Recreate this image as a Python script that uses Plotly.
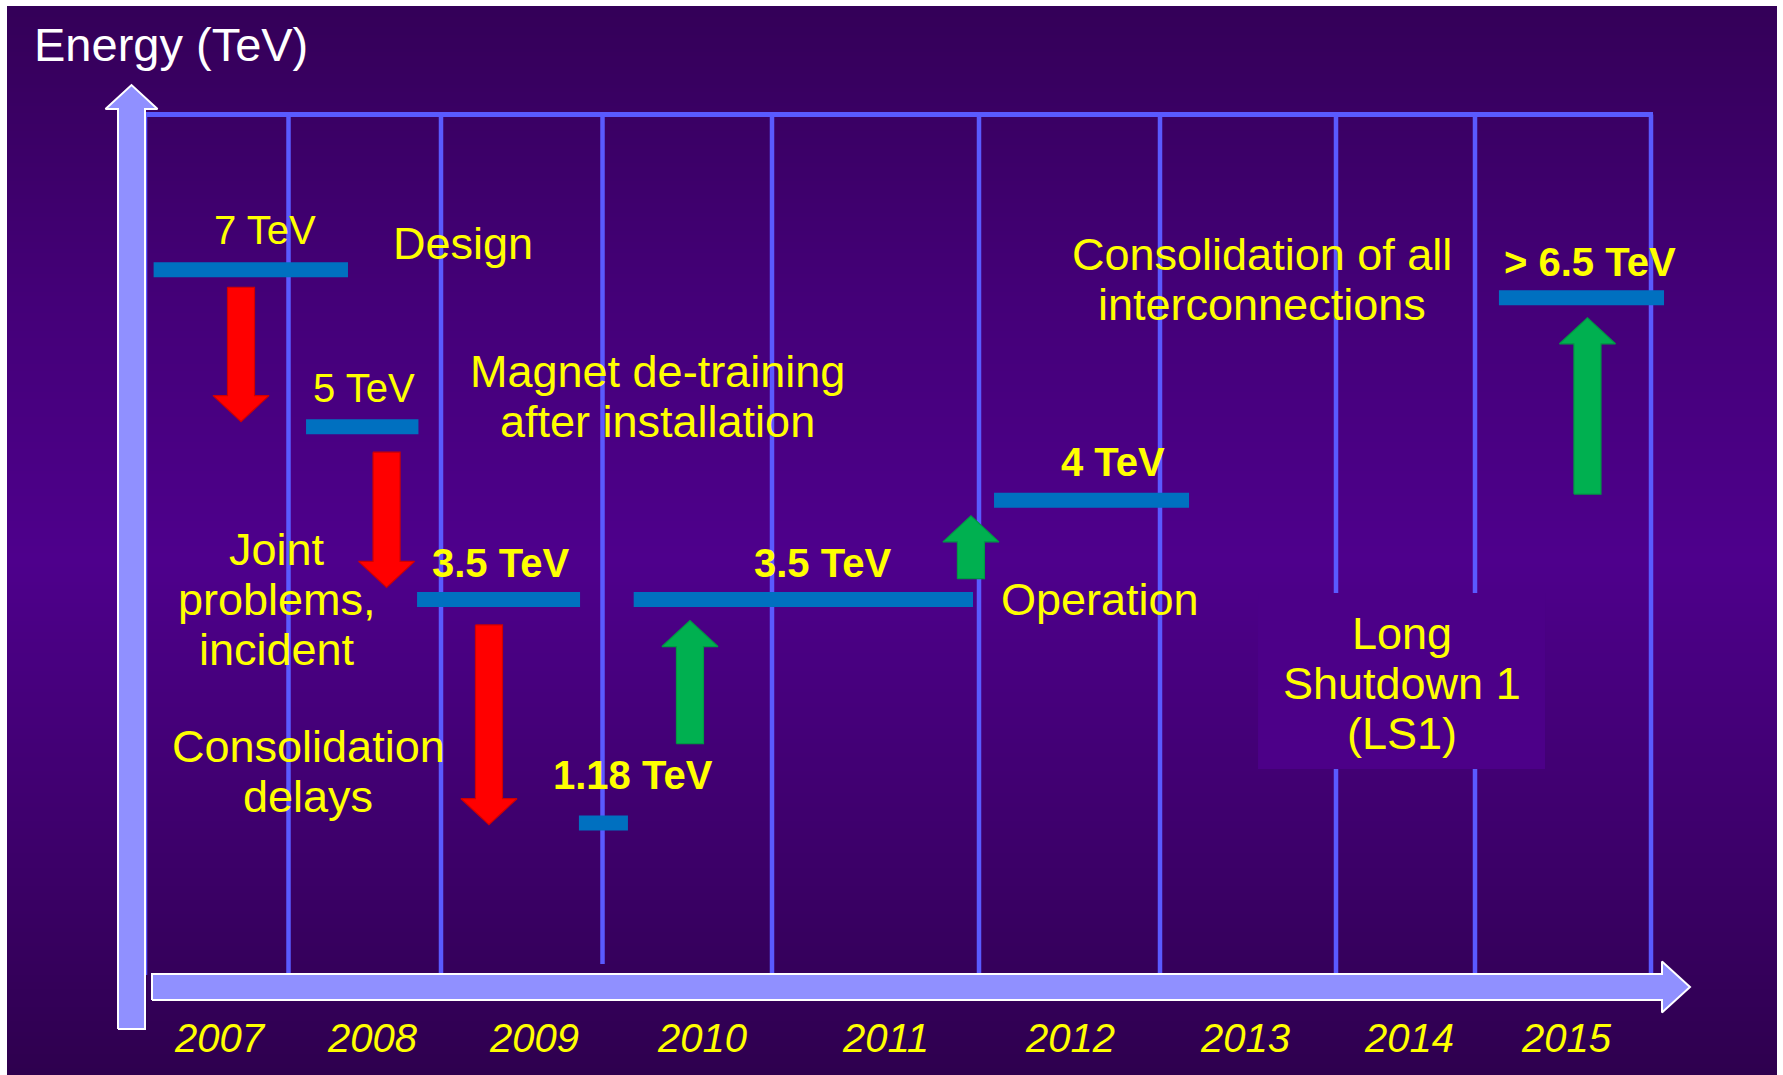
import numpy as np
import plotly.graph_objects as go

# ---------------- data ----------------
years = [2007, 2008, 2009, 2010, 2011, 2012, 2013, 2014, 2015]

# energy plateaus: label, start / end (fractional year), drawn level (schematic height)
plateau_text = ["7 TeV", "5 TeV", "3.5 TeV", "1.18 TeV", "3.5 TeV", "4 TeV", "> 6.5 TeV"]
plateau_energy = [7.0, 5.0, 3.5, 1.18, 3.5, 4.0, 6.5]
plateau_start = [2007.06, 2008.115, 2008.843, 2009.854, 2010.184, 2012.083, 2015.136]
plateau_end = [2008.39, 2008.852, 2009.861, 2010.150, 2011.971, 2013.165, 2016.074]
plateau_level = [8.22, 6.42, 4.44, 1.88, 4.44, 5.58, 7.90]
plateau_bold = [False, False, True, True, True, True, True]

# red arrows (energy reductions) and green arrows (energy increases)
drop_year = [2007.669, 2008.643, 2009.297]
drop_from = [8.02, 6.13, 4.15]
drop_to = [6.48, 4.58, 1.86]

rise_year = [2010.516, 2011.961, 2015.639]
rise_from = [2.79, 4.68, 5.65]
rise_to = [4.20, 5.40, 7.67]

# explanatory notes
note_lines = [
    ["Design"],
    ["Magnet de-training", "after installation"],
    ["Joint", "problems,", "incident"],
    ["Consolidation", "delays"],
    ["Operation"],
    ["Consolidation of all", "interconnections"],
    ["Long", "Shutdown 1", "(LS1)"],
]
note_year = [2009.138, 2010.322, 2007.920, 2008.128, 2012.669, 2013.577, 2014.473]
note_level = [8.527, 7.060, 5.013, 2.762, 4.447, 8.401, 4.057]

# ---------------- layout / style constants ----------------
W, H = 1783, 1075
COL_EDGES = [145, 288.5, 441, 602.5, 772, 979, 1160, 1336, 1475, 1651]  # drawn year columns
Y0_PX = 987.0          # pixel row of level 0 (time axis)
PXL = 87.25            # pixels per level unit
FONT = "Liberation Sans, Arial, sans-serif"
YELLOW = "#ffff00"
GRID = "#5a5aff"
BAR = "#0070c0"
AXIS_FILL = "#9090ff"

label_dx = [14, 2, 1.5, 30, 19, 21.5, 8.5]           # label offset from bar centre (px)
label_dy = [40, 39, 36.4, 47.5, 36.4, 38.5, 36]      # label height above bar (px)
year_dx = [3, 8, 12, 15, 9.5, 0, -3, 3, 3]
LINE_GAP = 50 / PXL


def year_to_x(t):
    t = np.asarray(t, dtype=float)
    edges_t = np.arange(2007, 2017)
    x = np.interp(t, edges_t, COL_EDGES)
    w_last = COL_EDGES[-1] - COL_EDGES[-2]
    x = np.where(t > 2016, COL_EDGES[-1] + (t - 2016) * w_last, x)
    return x


def px_to_level(py):
    return (Y0_PX - py) / PXL


fig = go.Figure()

# ---------------- background gradient (heatmap of rows) ----------------
stops_y = [6, 300, 560, 800, 1075]
stops_c = ["rgb(52,0,88)", "rgb(68,0,120)", "rgb(78,0,140)", "rgb(64,0,112)", "rgb(46,0,78)"]
cscale = [[(sy - 6) / (H - 6), c] for sy, c in zip(stops_y, stops_c)]
row_edges_px = np.linspace(6, H, 300)
row_mid_px = 0.5 * (row_edges_px[:-1] + row_edges_px[1:])
fig.add_trace(go.Heatmap(
    x=[7, 1777], y=px_to_level(row_edges_px), z=[[v] for v in row_mid_px],
    zmin=6, zmax=H, colorscale=cscale, showscale=False, hoverinfo="skip"))


def add_line(xs, ys, color, width):
    fig.add_trace(go.Scatter(x=xs, y=ys, mode="lines", line=dict(color=color, width=width),
                             hoverinfo="skip", showlegend=False))


# ---------------- grid ----------------
top_level = px_to_level(114.5)
bottom_level = px_to_level(975)
for i, xe in enumerate(COL_EDGES):
    yb = px_to_level(964) if i == 3 else bottom_level
    add_line([xe, xe], [yb, top_level], GRID, 4.5)
add_line([COL_EDGES[0] - 2, COL_EDGES[-1] + 2], [top_level, top_level], GRID, 5)

# LS1 label box (covers the grid lines)
bx0, bx1 = float(year_to_x(2013.557)), float(year_to_x(2015.398))
by0, by1 = px_to_level(769), px_to_level(593)
fig.add_trace(go.Scatter(x=[bx0, bx1, bx1, bx0, bx0], y=[by0, by0, by1, by1, by0], mode="lines",
                         fill="toself", fillcolor="rgb(76,0,136)", line=dict(width=0),
                         hoverinfo="skip", showlegend=False))

# ---------------- axis arrows ----------------
cx, bw, hw = 131.5, 13.5, 26
tip, hb, bot = px_to_level(85), px_to_level(109), px_to_level(1029)
ax_x = [cx - bw, cx - bw, cx - hw, cx, cx + hw, cx + bw, cx + bw, cx - bw]
ax_y = [bot, hb, hb, tip, hb, hb, bot, bot]
fig.add_trace(go.Scatter(x=ax_x, y=ax_y, mode="lines", fill="toself", fillcolor=AXIS_FILL,
                         line=dict(color="white", width=2), hoverinfo="skip", showlegend=False))
cy = 0.0
bh, hh = 13 / PXL, 25.5 / PXL
x0a, hbx, tipx = 152, 1662, 1690
tx = [x0a, hbx, hbx, tipx, hbx, hbx, x0a, x0a]
ty = [cy - bh, cy - bh, cy - hh, cy, cy + hh, cy + bh, cy + bh, cy - bh]
fig.add_trace(go.Scatter(x=tx, y=ty, mode="lines", fill="toself", fillcolor=AXIS_FILL,
                         line=dict(color="white", width=2), hoverinfo="skip", showlegend=False))

# ---------------- plateaus ----------------
for s, e, lv in zip(plateau_start, plateau_end, plateau_level):
    add_line(year_to_x([s, e]), [lv, lv], BAR, 15)


# ---------------- arrows ----------------
def block_arrow(xc, y_from, y_to, fill, edge):
    sw, hwid, hl = 13.5, 28, 26 / PXL
    d = 1 if y_to > y_from else -1
    hbase = y_to - d * hl
    xs = [xc - sw, xc - sw, xc - hwid, xc, xc + hwid, xc + sw, xc + sw, xc - sw]
    ys = [y_from, hbase, hbase, y_to, hbase, hbase, y_from, y_from]
    fig.add_trace(go.Scatter(x=xs, y=ys, mode="lines", fill="toself", fillcolor=fill,
                             line=dict(color=edge, width=1.2), hoverinfo="skip", showlegend=False))


for yr, a, b in zip(drop_year, drop_from, drop_to):
    block_arrow(float(year_to_x(yr)), a, b, "#ff0000", "#d00000")
for yr, a, b in zip(rise_year, rise_from, rise_to):
    block_arrow(float(year_to_x(yr)), a, b, "#00b050", "#009a44")

# ---------------- text ----------------
ann = []
ann.append(dict(x=171, y=px_to_level(44.7), text="Energy (TeV)", showarrow=False,
                xanchor="center", yanchor="middle", font=dict(family=FONT, size=47, color="white")))

for i, txt in enumerate(plateau_text):
    xc = float(np.mean(year_to_x([plateau_start[i], plateau_end[i]]))) + label_dx[i]
    yc = plateau_level[i] + label_dy[i] / PXL
    t = f"<b>{txt.replace('>', '&gt;')}</b>" if plateau_bold[i] else txt
    ann.append(dict(x=xc, y=yc, text=t, showarrow=False, xanchor="center", yanchor="middle",
                    font=dict(family=FONT, size=40, color=YELLOW)))

for lines, yr, lv in zip(note_lines, note_year, note_level):
    for k, line in enumerate(lines):
        ann.append(dict(x=float(year_to_x(yr)), y=lv - k * LINE_GAP, text=line, showarrow=False,
                        xanchor="center", yanchor="middle",
                        font=dict(family=FONT, size=45, color=YELLOW)))

for i, yr in enumerate(years):
    ann.append(dict(x=float(year_to_x(yr + 0.5)) + year_dx[i], y=px_to_level(1037.5),
                    text=f"<i>{yr}</i>", showarrow=False, xanchor="center", yanchor="middle",
                    font=dict(family=FONT, size=40, color=YELLOW)))

fig.update_layout(
    width=W, height=H,
    margin=dict(l=0, r=0, t=0, b=0),
    paper_bgcolor="white",
    plot_bgcolor="rgba(0,0,0,0)",
    annotations=ann,
    showlegend=False,
    xaxis=dict(range=[0, W], domain=[0, 1], visible=False, fixedrange=True),
    yaxis=dict(range=[px_to_level(H), px_to_level(0)], domain=[0, 1], visible=False, fixedrange=True),
)

fig.write_html("out.html", config={"displayModeBar": False},
               post_script="document.body.style.margin='0px';document.body.style.padding='0px';")
